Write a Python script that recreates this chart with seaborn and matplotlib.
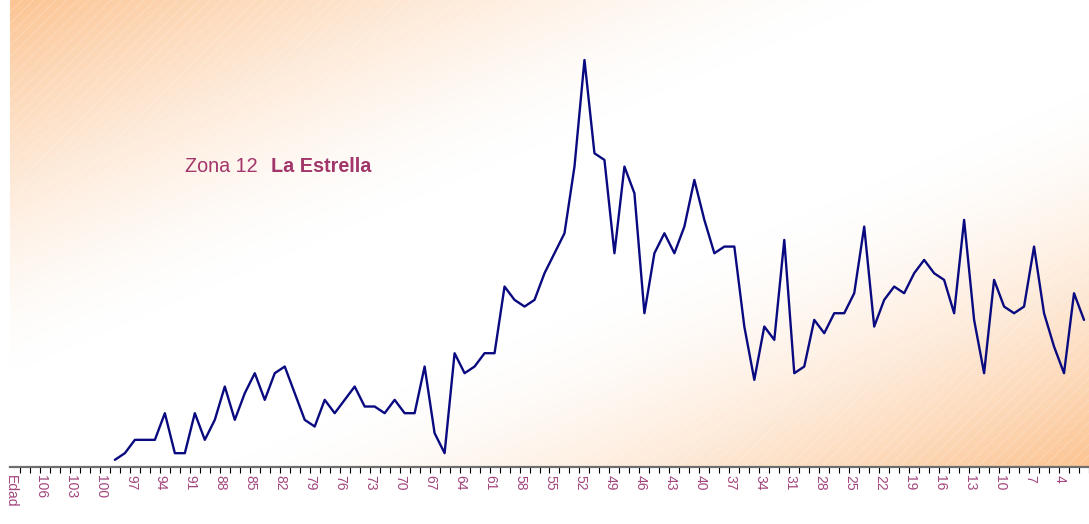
import numpy as np
import pandas as pd
import matplotlib
matplotlib.use("Agg")
import matplotlib.pyplot as plt
import matplotlib.transforms as mtransforms
import seaborn as sns
from matplotlib.patches import Rectangle

# categorías del eje (Edad, 108 ... 2)
categorias = ["Edad"] + [str(e) for e in range(108, 1, -1)]

# población por edad (de 99 a 2 años)
edades = list(range(99, 1, -1))
poblacion = [1, 2, 4, 4, 4, 8, 2, 2, 8, 4,
             7, 12, 7, 11, 14, 10, 14, 15, 11, 7,
             6, 10, 8, 10, 12, 9, 9, 8, 10, 8,
             8, 15, 5, 2, 17, 14, 15, 17, 17, 27,
             25, 24, 25, 29, 32, 35, 45, 61, 47, 46,
             32, 45, 41, 23, 32, 35, 32, 36, 43, 37,
             32, 33, 33, 21, 13, 21, 19, 34, 14, 15,
             22, 20, 23, 23, 26, 36, 21, 25, 27, 26,
             29, 31, 29, 28, 23, 37, 22, 14, 28, 24,
             23, 24, 33, 23, 18, 14, 26, 22]

sns.set_style("white")
plt.rcParams['font.family'] = ['Liberation Sans', 'DejaVu Sans']

posicion = {c: i for i, c in enumerate(categorias)}
df = pd.DataFrame({'edad': [str(e) for e in edades], 'n': poblacion})
df['pos'] = df['edad'].map(posicion)

fig = plt.figure(figsize=(10.89, 5.24), dpi=100)
ax = fig.add_axes([10 / 1089, (524 - 466.5) / 524, 1079 / 1089, 466.5 / 524])

x0, x1, y0, y1 = -0.5, 107.4, 0, 70

# fondo degradado naranja - blanco - naranja
h, w = 233, 540
xx, yy = np.meshgrid(np.linspace(0, 1, w), np.linspace(0, 1, h))
t = xx + yy
f = np.clip((np.abs(t - 1.0) - 0.2) / 0.8, 0, 1) ** 1.5
naranja = np.array([252, 196, 146]) / 255
img = 1 - f[..., None] * (1 - naranja)
ax.imshow(img, extent=[x0, x1, y0, y1], aspect='auto', zorder=0,
          interpolation='bilinear')
plt.rcParams['hatch.linewidth'] = 0.6
ax.add_patch(Rectangle((0, 0), 1, 1, transform=ax.transAxes, fill=False,
                       hatch='///', edgecolor=(1, 1, 1, 0.25), lw=0, zorder=1))

sns.lineplot(data=df, x='pos', y='n', ax=ax, color='#0a0a80', lw=1.7, zorder=3)

ax.set_xlim(x0, x1)
ax.set_ylim(y0, y1)
ax.set_xlabel('')
ax.set_ylabel('')
ax.set_yticks([])

ax.set_xticks(range(0, len(categorias), 3))
ax.set_xticklabels(categorias[::3], rotation=-90, color='#a2457c', fontsize=10)
ax.set_xticks(np.arange(len(categorias)) + 0.5, minor=True)
ax.tick_params(axis='x', which='major', length=0, pad=6)
ax.tick_params(axis='x', which='minor', length=4, width=0.8, color='black',
               direction='out', bottom=True)
desplaza = mtransforms.ScaledTranslation(-4 / 100, 0, fig.dpi_scale_trans)
for lbl in ax.get_xticklabels():
    lbl.set_va('top')
    lbl.set_ha('center')
    lbl.set_transform(lbl.get_transform() + desplaza)

for s in ['top', 'right', 'left']:
    ax.spines[s].set_visible(False)
ax.spines['bottom'].set_color('#6e6e6e')
ax.spines['bottom'].set_linewidth(1.6)

fig.text(185 / 1089, 1 - 167 / 524, "Zona 12", color='#a2356a',
         fontsize=14.2, va='center', ha='left')
fig.text(271 / 1089, 1 - 167 / 524, "La Estrella", color='#a2356a',
         fontsize=14.2, fontweight='bold', va='center', ha='left')

fig.savefig('out.png', dpi=100)
